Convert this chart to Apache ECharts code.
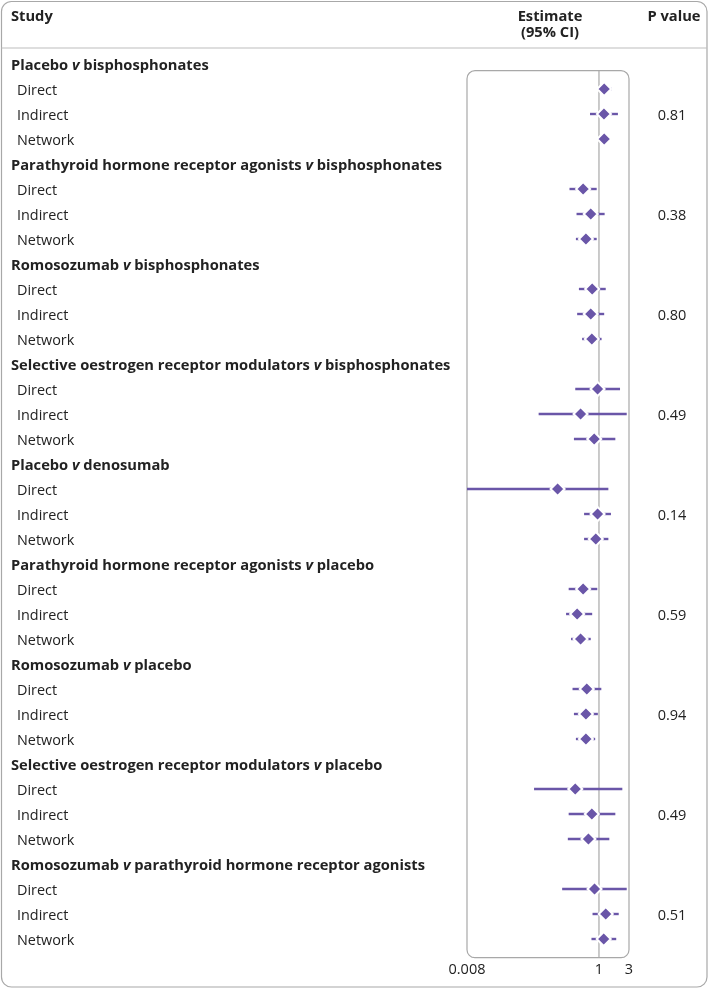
<!DOCTYPE html>
<html>
<head>
<meta charset="utf-8">
<script src="https://cdn.jsdelivr.net/npm/echarts@6/dist/echarts.min.js"></script>
<style>
html,body{margin:0;padding:0;background:#fff;}
#main{width:709px;height:989px;}
</style>
</head>
<body>
<div id="main"></div>
<script>
const groupNames = [
  'Placebo v bisphosphonates',
  'Parathyroid hormone receptor agonists v bisphosphonates',
  'Romosozumab v bisphosphonates',
  'Selective oestrogen receptor modulators v bisphosphonates',
  'Placebo v denosumab',
  'Parathyroid hormone receptor agonists v placebo',
  'Romosozumab v placebo',
  'Selective oestrogen receptor modulators v placebo',
  'Romosozumab v parathyroid hormone receptor agonists'
];
const comparisonTypes = ['Direct', 'Indirect', 'Network'];
const estimates = [1.21,1.20,1.21, 0.56,0.74,0.62, 0.78,0.74,0.77, 0.95,0.51,0.84, 0.22,0.95,0.89, 0.56,0.45,0.51, 0.64,0.62,0.62, 0.42,0.77,0.68, 0.85,1.28,1.19];
const lowerCI   = [1.01,0.72,1.10, 0.34,0.44,0.43, 0.48,0.45,0.54, 0.42,0.11,0.40, 0.008,0.58,0.58, 0.33,0.30,0.36, 0.38,0.40,0.43, 0.093,0.33,0.32, 0.26,0.79,0.76];
const upperCI   = [1.59,2.00,1.33, 0.92,1.23,0.92, 1.28,1.21,1.10, 2.16,2.76,1.82, 1.41,1.55,1.41, 0.94,0.78,0.74, 1.09,0.96,0.87, 2.35,1.82,1.46, 2.76,2.06,1.88];
const pValues = ['0.81','0.38','0.80','0.49','0.14','0.59','0.94','0.49','0.51'];
const xTickValues = [0.008, 1, 3];

// Build rows: each group = header row + 3 comparison rows
const rows = [];
const pointData = [];
const ciData = [];
groupNames.forEach((g, gi) => {
  rows.push({ kind: 'group', text: g, p: '' });
  comparisonTypes.forEach((c, ci) => {
    const k = gi * 3 + ci;
    const rowIndex = rows.length;
    rows.push({ kind: 'sub', text: c, p: c === 'Indirect' ? pValues[gi] : '' });
    pointData.push([estimates[k], rowIndex]);
    ciData.push([lowerCI[k], upperCI[k], rowIndex]);
  });
});
const rowIds = rows.map((r, i) => String(i));

const FONT = '"Open Sans", sans-serif';
const TXT = '#222222';
const PURPLE = '#6a56a8';

function fmtGroup(t) {
  const parts = t.split(' v ');
  return '{h|' + parts[0] + ' }{hv|v}{h| ' + parts[1] + '}';
}

const chart = echarts.init(document.getElementById('main'), null, { renderer: 'canvas' });
const GL = 467, GW = 162, GT = 51.5, GH = 900;

const option = {
  backgroundColor: '#fff',
  animation: false,
  textStyle: { fontFamily: FONT },
  grid: { left: GL, top: GT, width: GW, height: GH, outerBoundsMode: 'none', containLabel: false },
  xAxis: {
    type: 'log', logBase: 10, min: 0.008, max: 3,
    axisLine: { show: false }, axisTick: { show: false }, splitLine: { show: false },
    axisLabel: {
      customValues: xTickValues, showMinLabel: true, showMaxLabel: true, hideOverlap: false,
      margin: 11, fontSize: 14.5, color: TXT, fontFamily: FONT,
      formatter: v => String(+v.toPrecision(3))
    }
  },
  yAxis: [{
    type: 'category', data: rowIds, inverse: true,
    axisLine: { show: false }, axisTick: { show: false }, splitLine: { show: false },
    axisLabel: {
      interval: 0, align: 'left', margin: GL - 11, fontFamily: FONT, padding: [3, 0, 0, 0],
      formatter: (v, i) => rows[+v].kind === 'group' ? fmtGroup(rows[+v].text) : '{s|' + rows[+v].text + '}',
      rich: {
        h: { fontWeight: 'bold', fontSize: 14.7, color: TXT, fontFamily: FONT },
        hv: { fontWeight: 'bold', fontStyle: 'italic', fontSize: 14.7, color: TXT, fontFamily: FONT },
        s: { fontSize: 14.4, color: TXT, fontFamily: FONT, padding: [0, 0, 0, 6] }
      }
    }
  }, {
    type: 'category', data: rowIds, inverse: true, position: 'right',
    axisLine: { show: false }, axisTick: { show: false }, splitLine: { show: false },
    axisLabel: {
      interval: 0, align: 'center', margin: 43, fontFamily: FONT,
      formatter: (v) => rows[+v].p ? '{p|' + rows[+v].p + '}' : '',
      rich: {
        p: { fontSize: 14.5, color: TXT, fontFamily: FONT, padding: [4, 0, 0, 0] }
      }
    }
  }],
  series: [{
    type: 'custom',
    data: ciData,
    z: 3,
    renderItem: function (params, api) {
      const a = api.coord([api.value(0), api.value(2)]);
      const b = api.coord([api.value(1), api.value(2)]);
      return {
        type: 'line',
        shape: { x1: a[0], y1: a[1], x2: b[0], y2: b[1] },
        style: { stroke: PURPLE, lineWidth: 2.4 }
      };
    }
  }, {
    type: 'scatter',
    data: pointData,
    symbol: 'diamond',
    symbolSize: [14, 14],
    z: 4,
    itemStyle: { color: PURPLE, borderColor: '#fff', borderWidth: 2, opacity: 1 }
  }],
  graphic: {
    elements: [
      { id: 'frame', type: 'rect', z: 0, shape: { x: 1.5, y: 1.5, width: 705.5, height: 985.5, r: 10 },
        style: { fill: null, stroke: '#a8a8a8', lineWidth: 1.2 } },
      { id: 'sep', type: 'line', z: 0, shape: { x1: 1.5, y1: 48, x2: 707, y2: 48 },
        style: { stroke: '#bdbdbd', lineWidth: 1.2 } },
      { id: 'hStudy', type: 'text', x: 11, y: 17, style: { text: 'Study', font: 'bold 14.7px ' + FONT, fill: TXT, textAlign: 'left', textVerticalAlign: 'middle' } },
      { id: 'hEst1', type: 'text', x: 550, y: 17, style: { text: 'Estimate', font: 'bold 14.7px ' + FONT, fill: TXT, textAlign: 'center', textVerticalAlign: 'middle' } },
      { id: 'hEst2', type: 'text', x: 550, y: 32.5, style: { text: '(95% CI)', font: 'bold 14.7px ' + FONT, fill: TXT, textAlign: 'center', textVerticalAlign: 'middle' } },
      { id: 'hP', type: 'text', x: 674, y: 17, style: { text: 'P value', font: 'bold 14.7px ' + FONT, fill: TXT, textAlign: 'center', textVerticalAlign: 'middle' } }
    ]
  }
};
chart.setOption(option);

const xMin = chart.convertToPixel({ xAxisIndex: 0 }, 0.008);
const xMax = chart.convertToPixel({ xAxisIndex: 0 }, 3);
const xOne = chart.convertToPixel({ xAxisIndex: 0 }, 1);
const boxTop = 70.7, boxBottom = 957.7;
chart.setOption({
  graphic: {
    elements: [
      { id: 'box', type: 'rect', z: 0, shape: { x: xMin, y: boxTop, width: xMax - xMin, height: boxBottom - boxTop, r: 8 },
        style: { fill: null, stroke: '#a8a8a8', lineWidth: 1.2 } },
      { id: 'ref', type: 'line', z: 0, shape: { x1: xOne, y1: boxTop, x2: xOne, y2: boxBottom },
        style: { stroke: '#a8a8a8', lineWidth: 1.2 } }
    ]
  }
});
</script>
</body>
</html>
